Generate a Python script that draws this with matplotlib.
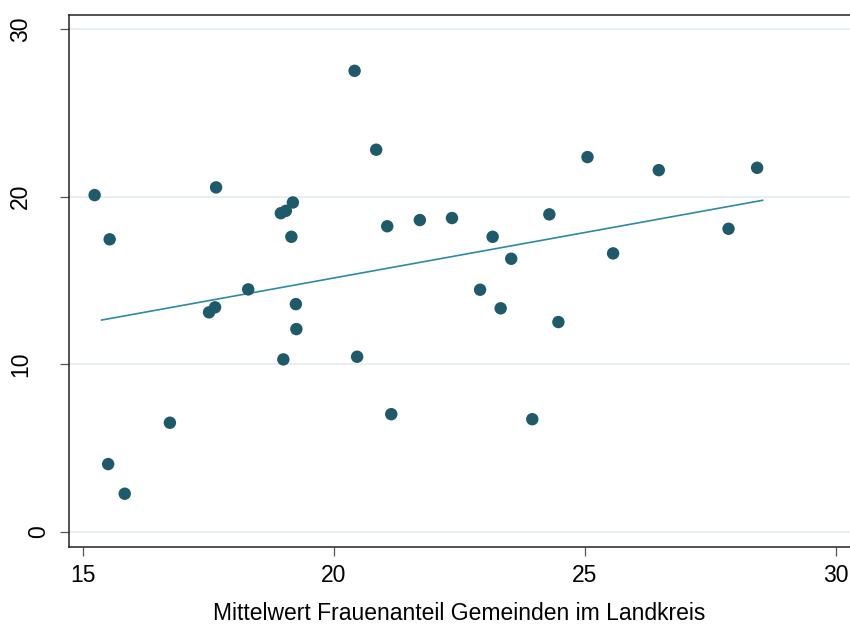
import matplotlib
matplotlib.use('Agg')
import matplotlib.pyplot as plt
import matplotlib.transforms as mtransforms
import numpy as np

# Mittelwert Frauenanteil Gemeinden (x) vs. Wert im Landkreis (y)
frauenanteil = [15.23, 15.53, 15.50, 15.83, 16.73, 17.65, 17.51, 17.63,
                18.29, 18.94, 19.04, 19.18, 19.15, 19.24, 19.25, 18.99,
                20.41, 20.46, 20.84, 21.06, 21.14, 21.71, 22.35, 22.91,
                23.16, 23.32, 23.53, 23.95, 24.29, 24.47, 25.05, 25.56,
                26.47, 27.86, 28.43]
wert = [20.10, 17.46, 4.04, 2.27, 6.51, 20.56, 13.10, 13.40,
        14.47, 19.02, 19.16, 19.66, 17.61, 13.59, 12.10, 10.29,
        27.52, 10.45, 22.81, 18.24, 7.02, 18.61, 18.73, 14.45,
        17.61, 13.34, 16.30, 6.72, 18.95, 12.52, 22.37, 16.62,
        21.59, 18.09, 21.73]

# linear fit line
fit_x = [15.37, 28.54]
fit_y = [12.64, 19.79]

x_ticks = [15, 20, 25, 30]
y_ticks = [0, 10, 20, 30]

plt.rcParams['font.family'] = ['Liberation Sans', 'DejaVu Sans']

fig = plt.figure(figsize=(8.5, 6.26), dpi=100)
ax = fig.add_axes([0.0812, 0.1262, 0.9188, 0.8503])

# Grid lines
for yv in y_ticks:
    ax.axhline(yv, color='#e8eff2', linewidth=1.4, zorder=0)

# Plotting
ax.scatter(frauenanteil, wert, s=80, color='#1f5a6a', edgecolors='none',
           zorder=3)
ax.plot(fit_x, fit_y, '-', color='#2b8aa6', linewidth=1.2, zorder=2)

# Axis customization
ax.set_xlim(14.72, 30.28)
ax.set_ylim(-0.91, 30.87)
ax.set_xticks(x_ticks)
ax.set_yticks(y_ticks)
ax.set_xticklabels([str(v) for v in x_ticks])
ax.set_yticklabels([str(v) for v in y_ticks], rotation=90, va='center')

ax.tick_params(axis='both', direction='out', length=6.5, width=0.9,
               color='#555555', labelsize=16.5, labelcolor='black')
ax.tick_params(axis='x', pad=6)
ax.tick_params(axis='y', pad=20)

for side in ['left', 'bottom', 'top']:
    ax.spines[side].set_linewidth(1.1)
    ax.spines[side].set_color('#222222')
ax.spines['right'].set_visible(False)

ax.set_xlabel('Mittelwert Frauenanteil Gemeinden im Landkreis',
              fontsize=16.5, color='black', labelpad=10.5)

# the "0" label sits closer to the axis in the original
lbl0 = ax.get_yticklabels()[0]
lbl0.set_transform(lbl0.get_transform() +
                   mtransforms.ScaledTranslation(0.18, 0, fig.dpi_scale_trans))

fig.savefig('out.png', dpi=100)
